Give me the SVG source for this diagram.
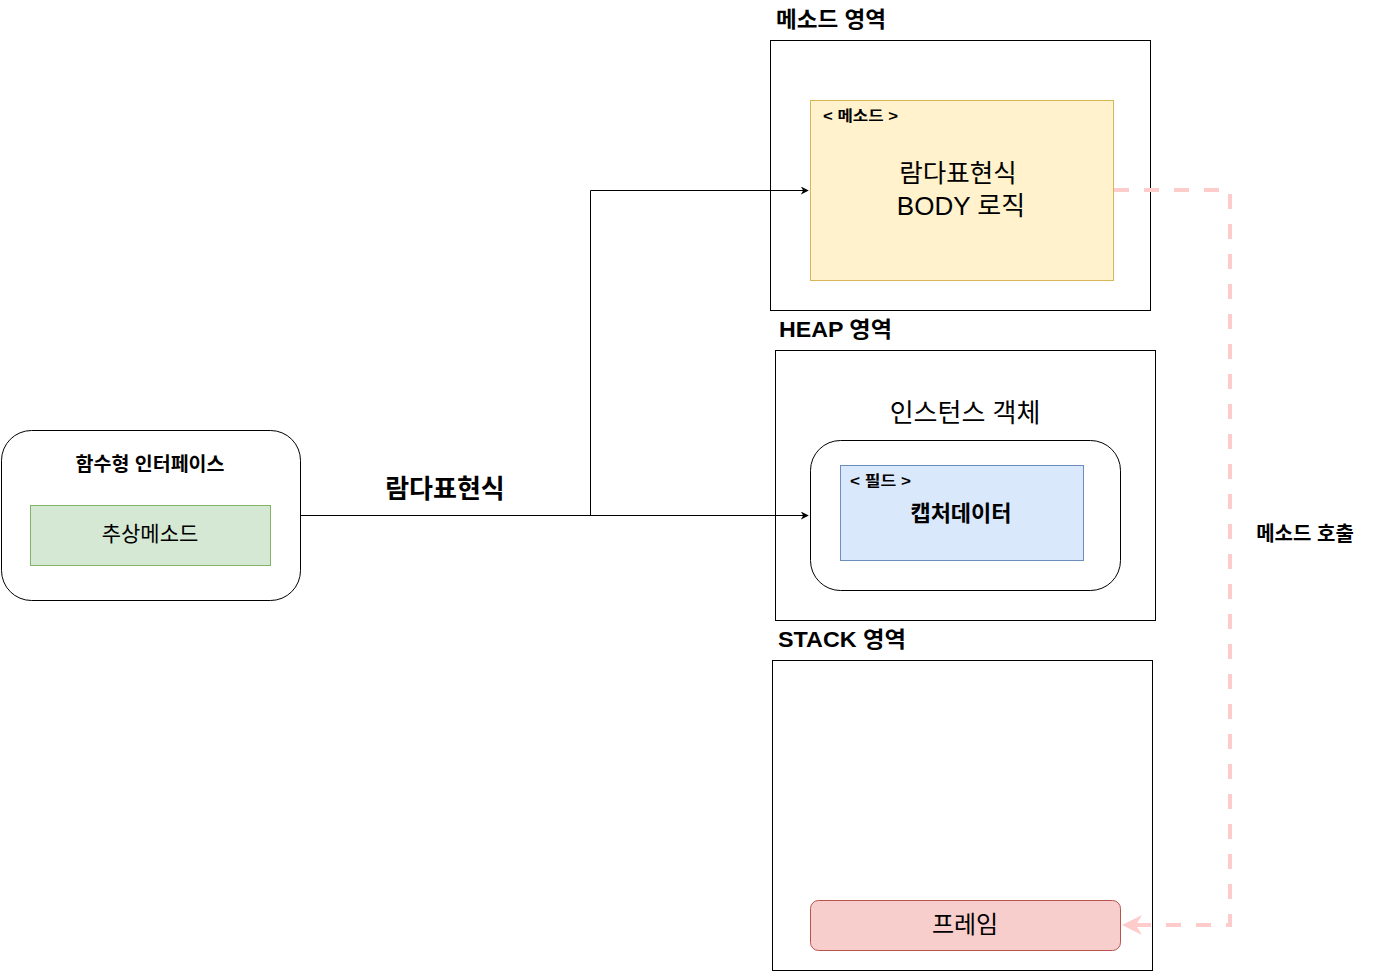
<svg xmlns="http://www.w3.org/2000/svg" width="1381" height="971" viewBox="0 0 1381 971">
<defs>
<style>
text{font-family:"Liberation Sans","Noto Sans CJK KR",sans-serif;fill:#000}
.b{font-weight:bold}
.area{fill:#fff;stroke:#000;stroke-width:1}
.conn{fill:none;stroke:#000;stroke-width:1}
.dash{fill:none;stroke:#ffcccc;stroke-width:4;stroke-dasharray:15 15}
</style>
<marker id="ar" viewBox="0 0 10 10" refX="9" refY="5" markerWidth="8" markerHeight="8" markerUnits="userSpaceOnUse" orient="auto"><path d="M0,0 L10,5 L0,10 L3,5 Z" fill="#000"/></marker>
<marker id="arp" viewBox="0 0 10 10" refX="9" refY="5" markerWidth="20" markerHeight="20" markerUnits="userSpaceOnUse" orient="auto"><path d="M0,0 L10,5 L0,10 L3,5 Z" fill="#ffcccc"/></marker>
</defs>
<rect width="1381" height="971" fill="#fff"/>

<g id="method-area">
<text x="776" y="27" class="b" font-size="22" textLength="110" lengthAdjust="spacingAndGlyphs">메소드 영역</text>
<rect class="area" x="770.5" y="40.5" width="380" height="270"/>
</g>
<g id="method-body">
<rect x="810.5" y="100.5" width="303" height="180" fill="#fff2cc" stroke="#d6b656"/>
<text x="823" y="121" class="b" font-size="15" textLength="75" lengthAdjust="spacingAndGlyphs">&lt; 메소드 &gt;</text>
<text x="958" y="182" font-size="25.5" text-anchor="middle">람다표현식</text>
<text x="961" y="215" font-size="26" text-anchor="middle">BODY 로직</text>
</g>

<g id="heap-area">
<text x="779" y="337" class="b" font-size="22" textLength="113" lengthAdjust="spacingAndGlyphs">HEAP 영역</text>
<rect class="area" x="775.5" y="350.5" width="380" height="270"/>
<text x="965" y="422" font-size="26" text-anchor="middle">인스턴스 객체</text>
</g>
<g id="instance">
<rect x="810.5" y="440.5" width="310" height="150" rx="30" fill="#fff" stroke="#000"/>
</g>
<g id="field">
<rect x="840.5" y="465.5" width="243" height="95" fill="#dae8fc" stroke="#6c8ebf"/>
<text x="850" y="486" class="b" font-size="15" textLength="61" lengthAdjust="spacingAndGlyphs">&lt; 필드 &gt;</text>
<text x="961" y="521" class="b" font-size="22" text-anchor="middle">캡처데이터</text>
</g>

<g id="stack-area">
<text x="778" y="647" class="b" font-size="22" textLength="128" lengthAdjust="spacingAndGlyphs">STACK 영역</text>
<rect class="area" x="772.5" y="660.5" width="380" height="310"/>
</g>
<g id="frame">
<rect x="810.5" y="900.5" width="310" height="50" rx="8" fill="#f8cecc" stroke="#b85450"/>
<text x="965" y="933" font-size="24" text-anchor="middle">프레임</text>
</g>

<g id="functional-interface">
<rect x="1.5" y="430.5" width="299" height="170" rx="30" fill="#fff" stroke="#000"/>
<text x="150" y="471" class="b" font-size="19.5" text-anchor="middle">함수형 인터페이스</text>
</g>
<g id="abstract-method">
<rect x="30.5" y="505.5" width="240" height="60" fill="#d5e8d4" stroke="#82b366"/>
<text x="150" y="541" font-size="21" text-anchor="middle">추상메소드</text>
</g>

<g id="connectors">
<path class="conn" d="M300,515.5 H808" marker-end="url(#ar)"/>
<path class="conn" d="M590.5,515.5 V190.5 H808" marker-end="url(#ar)"/>
<text x="445" y="498" class="b" font-size="26" text-anchor="middle">람다표현식</text>
<path class="dash" d="M1114,190 H1230 V925 H1124" marker-end="url(#arp)"/>
<text x="1305" y="541" class="b" font-size="20" text-anchor="middle">메소드 호출</text>
</g>
</svg>
